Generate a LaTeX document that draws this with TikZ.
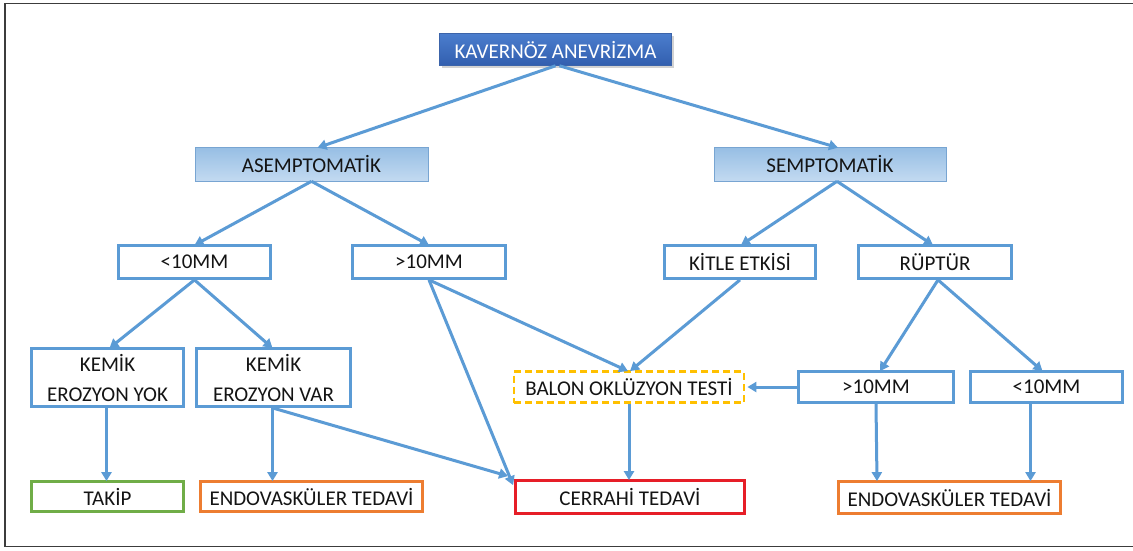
\documentclass[tikz,border=0pt]{standalone}
\usepackage{fontspec}
\setmainfont{Carlito}
\usetikzlibrary{arrows.meta,shadows,calc}
\definecolor{lineblue}{RGB}{91,155,213}
\definecolor{boxblue}{RGB}{91,155,213}
\definecolor{txt}{RGB}{20,20,20}
\definecolor{orng}{RGB}{237,125,49}
\definecolor{grn}{RGB}{112,173,71}
\definecolor{redb}{RGB}{230,30,40}
\definecolor{yel}{RGB}{255,192,0}
\definecolor{frame}{RGB}{60,60,60}
\tikzset{
  box/.style={draw=boxblue,line width=2.8pt,fill=white,inner sep=0pt,align=center,text=txt,font=\fontsize{21}{30}\selectfont},
  topbox/.style={inner sep=0pt,text=white,font=\fontsize{21}{25}\selectfont,
    top color={rgb,255:red,75;green,125;blue,205},bottom color={rgb,255:red,50;green,95;blue,175},
    draw={rgb,255:red,60;green,100;blue,170},line width=0.6pt,
    drop shadow={opacity=0.35,shadow xshift=2pt,shadow yshift=-2.5pt}},
  midbox/.style={inner sep=0pt,text=txt,font=\fontsize{21}{25}\selectfont,
    top color={rgb,255:red,150;green,190;blue,228},bottom color={rgb,255:red,195;green,218;blue,241},
    draw={rgb,255:red,120;green,165;blue,210},line width=0.6pt},
  arr/.style={draw=lineblue,line width=3pt,-{Triangle[width=10pt,length=9pt]}},
}
\begin{document}
\begin{tikzpicture}[x=1pt,y=-1pt]
\useasboundingbox (0,0) rectangle (1133,550);
\fill[white] (0,0) rectangle (1133,550);
\draw[frame,line width=1.5pt] (1140,3.5) -- (5,3.5) -- (5,546.5) -- (1140,546.5);

\node[topbox,minimum width=232pt,minimum height=32pt] (kav) at (555.5,49.5) {KAVERNÖZ ANEVRİZMA};
\node[midbox,minimum width=233pt,minimum height=34pt] (asemp) at (311.5,164) {ASEMPTOMATİK};
\node[midbox,minimum width=232pt,minimum height=34pt] (semp) at (830,164) {SEMPTOMATİK};

\node[box,minimum width=152pt,minimum height=33pt] (lt1) at (194.5,262) {<10MM};
\node[box,minimum width=153pt,minimum height=33pt] (gt1) at (429,262) {>10MM};
\node[box,minimum width=151pt,minimum height=33pt] (kit) at (740,262) {KİTLE ETKİSİ};
\node[box,minimum width=153pt,minimum height=33pt] (rup) at (935,262) {RÜPTÜR};

\node[box,minimum width=152pt,minimum height=58pt] (yok) at (107.5,377.5) {KEMİK\\EROZYON YOK};
\node[box,minimum width=154pt,minimum height=58pt] (var) at (273.5,377.5) {KEMİK\\EROZYON VAR};
\node[box,draw=yel,dashed,dash pattern=on 7pt off 4pt,minimum width=230pt,minimum height=31pt] (bal) at (629,387) {BALON OKLÜZYON TESTİ};
\node[box,minimum width=155pt,minimum height=31pt] (gt2) at (876,387) {>10MM};
\node[box,minimum width=152pt,minimum height=31pt] (lt2) at (1046.5,387) {<10MM};

\node[box,draw=grn,minimum width=152pt,minimum height=30pt] (tak) at (107.5,496.5) {TAKİP};
\node[box,draw=orng,minimum width=222pt,minimum height=30pt] (end1) at (311.5,496.5) {ENDOVASKÜLER TEDAVİ};
\node[box,draw=redb,minimum width=229pt,minimum height=33pt] (cer) at (630,497) {CERRAHİ TEDAVİ};
\node[box,draw=orng,minimum width=222pt,minimum height=32pt] (end2) at (949.5,497.5) {ENDOVASKÜLER TEDAVİ};

% arrows
\draw[arr] ([xshift=0pt]kav.south) -- ([xshift=6pt,yshift=-1pt]asemp.north);
\draw[arr] ([xshift=4pt]kav.south) -- ([xshift=8pt,yshift=-1pt]semp.north);
\draw[arr] (asemp.south) -- ([yshift=-1pt]lt1.north);
\draw[arr] (asemp.south) -- ([yshift=-1pt]gt1.north);
\draw[arr] ([xshift=7pt]semp.south) -- ([xshift=1pt,yshift=-1pt]kit.north);
\draw[arr] ([xshift=7pt]semp.south) -- ([xshift=-2pt,yshift=-1pt]rup.north);
\draw[arr] (lt1.south) -- ([xshift=2pt,yshift=-1pt]yok.north);
\draw[arr] (lt1.south) -- ([xshift=-1pt,yshift=-1pt]var.north);
\draw[arr] (gt1.south) -- ([xshift=-1pt,yshift=-6pt]cer.north west);
\draw[arr] (gt1.south) -- ([xshift=-1pt,yshift=-1pt]bal.north);
\draw[arr] (kit.south) -- ([xshift=1pt,yshift=-1pt]bal.north);
\draw[arr] ([xshift=3pt]rup.south) -- ([xshift=4pt,yshift=-1pt]gt2.north);
\draw[arr] ([xshift=3pt]rup.south) -- ([xshift=-4pt,yshift=-1pt]lt2.north);
\draw[arr] (gt2.west) -- ([xshift=2pt]bal.east);
\draw[arr] ([xshift=-1pt]yok.south) -- ([xshift=-1pt,yshift=-1pt]yok.south |- tak.north);
\draw[arr] ([xshift=-1pt]var.south) -- ([xshift=-1pt,yshift=-1pt]var.south |- end1.north);
\draw[arr] ([xshift=-1pt]var.south) -- ([xshift=-6pt,yshift=3pt]cer.north west);
\draw[arr] (bal.south) -- ([yshift=-1pt]bal.south |- cer.north);
\draw[arr] (gt2.south) -- ([xshift=1pt,yshift=-1pt]gt2.south |- end2.north);
\draw[arr] ([xshift=-16pt]lt2.south) -- ([xshift=-16pt,yshift=-1pt]lt2.south |- end2.north);
\end{tikzpicture}
\end{document}
